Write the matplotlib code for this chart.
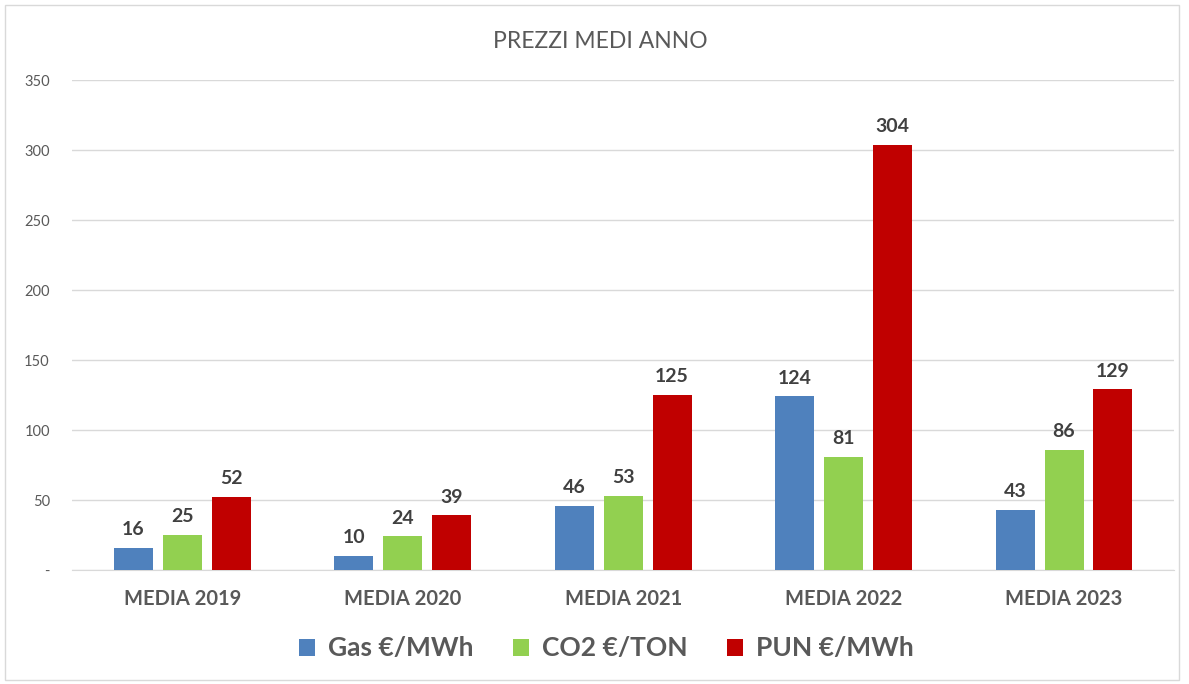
import matplotlib

matplotlib.use("Agg")
import matplotlib.pyplot as plt
import numpy as np
from matplotlib.patches import Rectangle

plt.rcParams["font.family"] = ["Lato", "DejaVu Sans"]

categories = ["MEDIA 2019", "MEDIA 2020", "MEDIA 2021", "MEDIA 2022", "MEDIA 2023"]
gas = [16, 10, 46, 124, 43]
co2 = [25, 24, 53, 81, 86]
pun = [52, 39, 125, 304, 129]
series_names = ["Gas €/MWh", "CO2 €/TON", "PUN €/MWh"]
y_ticks = [0, 50, 100, 150, 200, 250, 300, 350]
y_tick_labels = ["-", "50", "100", "150", "200", "250", "300", "350"]

colors = ["#4F81BD", "#92D050", "#C00000"]
text_gray = "#595959"

fig = plt.figure(figsize=(11.89, 6.84), dpi=100)
ax = fig.add_axes([0.0606, 0.1667, 0.927, 0.716])

x = np.arange(len(categories))
width = 0.177
offset = 0.222
for i, (vals, name) in enumerate(zip([gas, co2, pun], series_names)):
    pos = x + (i - 1) * offset
    bars = ax.bar(pos, vals, width, color=colors[i], label=name, zorder=3)
    for b, v in zip(bars, vals):
        ax.text(b.get_x() + b.get_width() / 2, v + 7, str(v), ha="center", va="bottom",
                fontsize=14, fontweight="bold", color="#404040")

ax.set_xlim(-0.5, len(categories) - 0.5)
ax.set_ylim(0, 350)
ax.set_yticks(y_ticks)
ax.set_yticklabels(y_tick_labels, fontsize=10.5, color=text_gray)
ax.set_xticks(x)
ax.set_xticklabels(categories, fontsize=14.5, fontweight="bold", color=text_gray)
ax.tick_params(axis="both", length=0)
ax.tick_params(axis="y", pad=16)
ax.tick_params(axis="x", pad=14)
ax.grid(axis="y", color="#d9d9d9", linewidth=1, zorder=0)
for side in ["top", "right", "left"]:
    ax.spines[side].set_visible(False)
ax.spines["bottom"].set_color("#d9d9d9")

fig.text(0.505, 0.94, "PREZZI MEDI ANNO", ha="center", va="center", fontsize=16.5, color=text_gray)

leg = fig.legend(loc="center", bbox_to_anchor=(0.51, 0.052), ncol=3, frameon=False,
                 fontsize=19, handlelength=0.6, handleheight=0.6, columnspacing=1.5,
                 handletextpad=0.5)
for t in leg.get_texts():
    t.set_color(text_gray)
    t.set_fontweight("bold")

fig.patches.append(Rectangle((0.004, 0.006), 0.988, 0.986, transform=fig.transFigure,
                             fill=False, edgecolor="#d9d9d9", linewidth=1))

fig.savefig("out.png", dpi=100)
